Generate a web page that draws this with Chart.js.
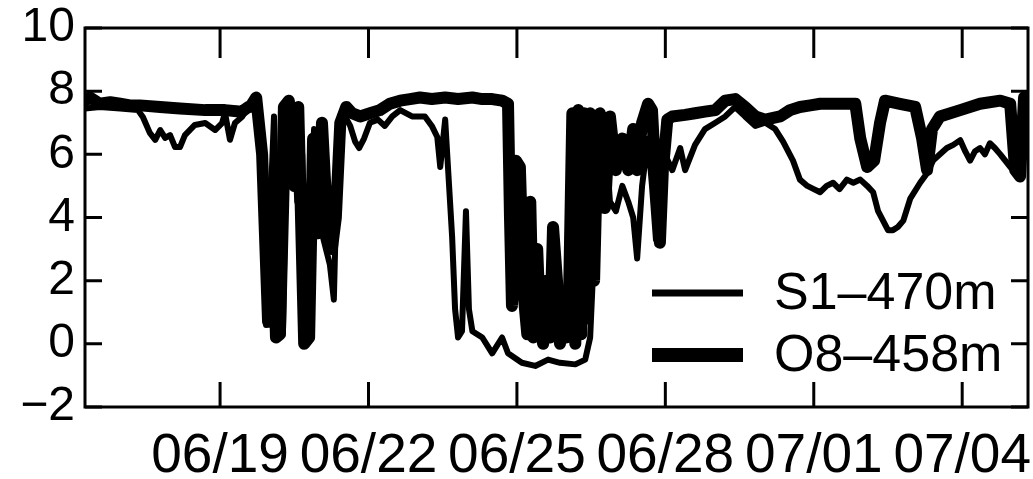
<!DOCTYPE html>
<html>
<head>
<meta charset="utf-8">
<script src="https://cdn.jsdelivr.net/npm/chart.js@4.4.1/dist/chart.umd.min.js"></script>
<style>
  html, body { margin: 0; padding: 0; background: #fff; }
  #wrap { width: 1033px; height: 479px; }
</style>
</head>
<body>
<div id="wrap"><canvas id="chart" width="1033" height="479"></canvas></div>
<script>
// x values are days counted from 06/16 00:00 (so 06/19 = 3, 07/04 = 18)
const xTickDays = [3, 6, 9, 12, 15, 18];
const xTickLabels = ['06/19', '06/22', '06/25', '06/28', '07/01', '07/04'];
const yTicks = [-2, 0, 2, 4, 6, 8, 10];
const seriesNames = ['S1\u2013470m', 'O8\u2013458m'];

// S1-470m (thin line)
const s1Days = [0.27, 0.57, 0.98, 1.34, 1.44, 1.58, 1.69, 1.79, 1.89, 1.99, 2.09, 2.19, 2.29, 2.49, 2.70, 2.90, 3.04, 3.10, 3.20, 3.30, 3.44, 3.57,
  3.61, 3.77, 3.85, 3.93, 4.01, 4.09, 4.19, 4.27, 4.37, 4.48, 4.56, 4.66, 4.74, 4.82, 4.90, 4.98, 5.06, 5.14, 5.22, 5.30, 5.38, 5.49,
  5.63, 5.73, 5.81, 5.91, 6.03, 6.19, 6.33, 6.48, 6.64, 6.88, 7.14, 7.28, 7.39, 7.45, 7.55, 7.61, 7.69, 7.75, 7.81, 7.89, 7.97, 8.03, 8.10,
  8.30, 8.50, 8.70, 8.82, 9.10, 9.37, 9.63, 9.87, 10.18, 10.38, 10.48, 10.56, 10.64,
  10.68, 10.78, 10.88, 11.00, 11.13, 11.25, 11.35, 11.43, 11.53, 11.65, 11.73, 11.81, 11.89, 11.99,
  12.14, 12.30, 12.40, 12.60, 12.80, 13.01, 13.21, 13.41, 13.61, 13.82,
  14.02, 14.22, 14.38, 14.58, 14.72, 14.87, 15.00, 15.13, 15.26, 15.39, 15.52, 15.67, 15.80, 15.94, 16.08, 16.20, 16.30, 16.40, 16.50,
  16.60, 16.70, 16.81, 16.95, 17.15, 17.29, 17.41, 17.55, 17.69, 17.82, 17.96, 18.06, 18.16, 18.26, 18.36, 18.46, 18.56, 18.66, 18.77,
  18.87, 18.97, 19.11, 19.20, 19.31];
const s1Values = [7.45, 7.5, 7.45, 7.4, 7.18, 6.68, 6.46, 6.77, 6.52, 6.61, 6.23, 6.23, 6.61, 6.93, 6.99, 6.77, 6.99, 7.31, 6.46, 6.99, 7.18, 7.5,
  7.5, 7.6, 5.5, 0.6, 4.0, 7.2, 1.5, 0.3, 6.5, 7.2, 4.5, 6.0, 0.2, 4.0, 6.8, 6.0, 3.5, 3.0, 2.5, 1.4, 6.5, 7.3,
  6.9, 6.4, 6.2, 6.5, 7.0, 7.1, 6.9, 7.2, 7.4, 7.2, 7.2, 6.9, 6.55, 5.6, 7.1, 5.5, 3.4, 1.1, 0.2, 0.4, 4.2, 1.1, 0.4,
  0.2, -0.3, 0.2, -0.3, -0.6, -0.7, -0.5, -0.6, -0.65, -0.5, 0.2, 3.0, 6.5,
  5.5, 6.8, 4.5, 4.2, 5.0, 4.5, 4.0, 2.7, 5.0, 6.5, 5.0, 3.3, 4.5, 6.0,
  5.5, 6.2, 5.5, 6.3, 6.8, 7.0, 7.2, 7.5, 7.2, 6.9,
  7.0, 6.8, 6.4, 5.8, 5.2, 5.0, 4.9, 4.8, 5.0, 5.1, 4.9, 5.2, 5.1, 5.2, 5.0, 4.8, 4.2, 3.9, 3.6,
  3.6, 3.7, 3.9, 4.6, 5.1, 5.4, 5.8, 6.0, 6.2, 6.3, 6.45, 6.1, 5.8, 6.1, 6.2, 6.0, 6.35, 6.2, 6.0,
  5.8, 5.6, 5.4, 5.5, 6.6];

// O8-458m (thick line)
const o8Days = [0.27, 0.37, 0.57, 0.78, 0.98, 1.18, 1.38, 1.79, 2.19, 2.70, 3.10, 3.44, 3.57,
  3.61, 3.73, 3.85, 3.97, 4.05, 4.13, 4.21, 4.29, 4.39, 4.50, 4.58, 4.70, 4.80, 4.88, 4.98, 5.06, 5.16, 5.26, 5.34, 5.43, 5.55,
  5.67, 5.83, 6.03, 6.23, 6.43, 6.64, 6.84, 7.04, 7.28, 7.55, 7.81, 8.10, 8.30, 8.50, 8.70, 8.82,
  8.86, 8.90, 8.98, 9.06, 9.14, 9.21, 9.27, 9.33, 9.41, 9.47, 9.53, 9.59, 9.67, 9.73, 9.81, 9.87, 9.93, 9.99, 10.05, 10.12,
  10.18, 10.24, 10.30, 10.36, 10.42, 10.48, 10.56, 10.64,
  10.68, 10.78, 10.88, 11.00, 11.13, 11.25, 11.35, 11.43, 11.53, 11.65, 11.73, 11.81, 11.89, 11.95, 12.04,
  12.14, 12.40, 12.60, 12.80, 13.01, 13.21, 13.41, 13.61, 13.82, 14.02, 14.32, 14.52, 14.72, 14.93, 15.13, 15.33, 15.54, 15.84,
  15.94, 16.08, 16.22, 16.34, 16.44, 16.74, 17.05, 17.19, 17.29, 17.39, 17.55, 17.96, 18.36, 18.77, 18.97, 19.07, 19.17, 19.25, 19.33];
const o8Values = [7.7, 7.8, 7.6, 7.65, 7.6, 7.55, 7.55, 7.5, 7.45, 7.4, 7.4, 7.35, 7.5,
  7.5, 7.8, 6.0, 0.7, 5.0, 0.2, 0.3, 7.5, 7.7, 5.0, 7.5, 0.0, 0.2, 6.5, 3.5, 7.0, 4.0, 3.0, 4.0, 7.0, 7.5,
  7.3, 7.2, 7.3, 7.4, 7.6, 7.7, 7.75, 7.8, 7.75, 7.8, 7.75, 7.8, 7.75, 7.75, 7.7, 7.6,
  4.0, 1.2, 5.8, 5.6, 1.5, 0.3, 4.5, 0.2, 3.0, 0.5, 0.0, 2.0, 0.2, 3.7, 2.0, 0.0, 1.5, 0.2, 1.2, 7.3,
  0.0, 7.4, 0.3, 7.3, 0.8, 7.3, 2.0, 7.2,
  7.3, 4.3, 7.2, 5.5, 6.5, 5.5, 6.8, 5.5, 7.0, 7.6, 7.4, 5.0, 3.2, 5.5, 7.1,
  7.2, 7.25, 7.3, 7.35, 7.4, 7.7, 7.75, 7.5, 7.2, 7.1, 7.2, 7.4, 7.5, 7.55, 7.6, 7.6, 7.6, 7.6,
  6.5, 5.6, 5.8, 7.0, 7.7, 7.6, 7.5, 6.5, 5.5, 6.8, 7.2, 7.4, 7.6, 7.7, 7.6, 5.5, 5.3, 7.8, 7.6];

const FONT = "'Liberation Sans', Arial, Helvetica, sans-serif";

function toPoints(days, values) {
  return days.map((d, i) => ({ x: d, y: values[i] }));
}

// keep the plot box where the reference has it, ignore label overhang
function fixBox(scale, size) {
  if (scale.isHorizontal()) scale.height = size; else scale.width = size;
  scale.paddingTop = 0;
  scale.paddingBottom = 0;
  scale.paddingLeft = 0;
  scale.paddingRight = 0;
}

// frame with inward tick marks on all four sides
const framePlugin = {
  id: 'frame',
  afterDatasetsDraw(chart) {
    const { ctx, chartArea: a, scales } = chart;
    ctx.save();
    ctx.strokeStyle = '#000';
    ctx.lineWidth = 3;
    ctx.beginPath();
    yTicks.forEach(v => {
      const y = scales.y.getPixelForValue(v);
      ctx.moveTo(a.left, y); ctx.lineTo(a.left + 17, y);
      ctx.moveTo(a.right, y); ctx.lineTo(a.right - 17, y);
    });
    xTickDays.forEach(v => {
      const x = scales.x.getPixelForValue(v);
      ctx.moveTo(x, a.bottom); ctx.lineTo(x, a.bottom - 25);
      ctx.moveTo(x, a.top); ctx.lineTo(x, a.top + 30);
    });
    ctx.stroke();
    ctx.strokeRect(a.left, a.top, a.right - a.left, a.bottom - a.top);
    ctx.restore();
  }
};

// legend drawn inside the plot, bottom right
const legendPlugin = {
  id: 'insideLegend',
  afterDraw(chart) {
    const { ctx, chartArea: a } = chart;
    const widths = [7, 14];
    ctx.save();
    ctx.fillStyle = '#000';
    ctx.strokeStyle = '#000';
    ctx.font = '52px ' + FONT;
    ctx.textBaseline = 'middle';
    ctx.textAlign = 'left';
    seriesNames.forEach((name, i) => {
      const y = a.bottom - 114 + i * 62;
      ctx.lineWidth = widths[i];
      ctx.beginPath();
      ctx.moveTo(a.left + 567, y);
      ctx.lineTo(a.left + 658, y);
      ctx.stroke();
      ctx.fillText(name, a.left + 689, y + 2);
    });
    ctx.restore();
  }
};

new Chart(document.getElementById('chart'), {
  type: 'line',
  data: {
    datasets: [
      {
        label: seriesNames[0],
        data: toPoints(s1Days, s1Values),
        borderColor: '#000',
        borderWidth: 6
      },
      {
        label: seriesNames[1],
        data: toPoints(o8Days, o8Values),
        borderColor: '#000',
        borderWidth: 12
      }
    ]
  },
  options: {
    responsive: false,
    animation: false,
    events: [],
    layout: { padding: { top: 28, right: 5, left: 0, bottom: 0 } },
    elements: {
      point: { radius: 0 },
      line: { tension: 0, borderJoinStyle: 'round', borderCapStyle: 'round' }
    },
    plugins: {
      legend: { display: false },
      tooltip: { enabled: false }
    },
    scales: {
      x: {
        type: 'linear',
        min: 0.27,
        max: 19.33,
        afterBuildTicks: scale => { scale.ticks = xTickDays.map(v => ({ value: v })); },
        afterFit: scale => fixBox(scale, 72),
        grid: { display: false, drawTicks: false },
        border: { display: false },
        ticks: {
          padding: 17,
          maxRotation: 0,
          autoSkip: false,
          color: '#000',
          font: { family: FONT, size: 55 },
          callback: value => xTickLabels[xTickDays.indexOf(value)]
        }
      },
      y: {
        min: -2,
        max: 10,
        afterBuildTicks: scale => { scale.ticks = yTicks.map(v => ({ value: v })); },
        afterFit: scale => fixBox(scale, 85),
        grid: { display: false, drawTicks: false },
        border: { display: false },
        ticks: {
          padding: 10,
          color: '#000',
          font: { family: FONT, size: 48 },
          callback: value => value < 0 ? '\u2212' + Math.abs(value) : String(value)
        }
      }
    }
  },
  plugins: [framePlugin, legendPlugin]
});
</script>
</body>
</html>
